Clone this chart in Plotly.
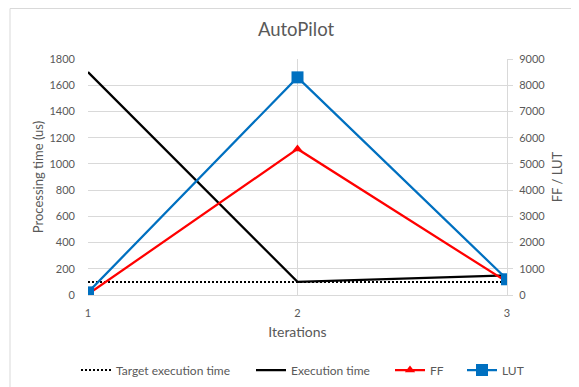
import plotly.graph_objects as go

iterations = [1, 2, 3]
target_time = [100, 100, 100]
execution_time = [1700, 100, 150]
ff = [30, 5570, 500]
lut = [100, 8300, 600]
left_ticks = list(range(0, 1801, 200))
right_ticks = list(range(0, 9001, 1000))

FONT = "Lato, 'Open Sans', sans-serif"
GRAY = "#595959"
W, H = 579, 387
OFF = 8  # page body margin

fig = go.Figure()
fig.add_trace(go.Scatter(x=iterations, y=target_time, name="Target execution time",
                         mode="lines", line=dict(color="black", width=2, dash="2px,2px"),
                         legend="legend"))
fig.add_trace(go.Scatter(x=iterations, y=execution_time, name="Execution time",
                         mode="lines", line=dict(color="black", width=2.25),
                         legend="legend2"))
fig.add_trace(go.Scatter(x=iterations, y=ff, name="FF", yaxis="y2",
                         mode="lines+markers", line=dict(color="#FF0000", width=2.25),
                         marker=dict(symbol="triangle-up", size=9, color="#FF0000"),
                         legend="legend3"))
fig.add_trace(go.Scatter(x=iterations, y=lut, name="LUT", yaxis="y2",
                         mode="lines+markers", line=dict(color="#0070C0", width=2.25),
                         marker=dict(symbol="square", size=12, color="#0070C0"),
                         legend="legend4"))

def leg(px):
    return dict(orientation="h", xref="container", yref="container",
                x=(px - OFF) / W, xanchor="left", y=1 - (370 - OFF) / H, yanchor="middle",
                font=dict(size=12, color=GRAY, family=FONT), bgcolor="rgba(0,0,0,0)")

pl, pr, pt, pb = 88 - OFF, 507 - OFF, 59 - OFF, 295 - OFF
pw, ph = pr - pl, pb - pt

fig.update_layout(
    width=W, height=H,
    paper_bgcolor="white", plot_bgcolor="white",
    margin=dict(l=pl, r=W - pr, t=pt, b=H - pb, autoexpand=False),
    font=dict(family=FONT, size=11, color=GRAY),
    title=dict(text="AutoPilot", xref="container", x=(296 - OFF) / W, xanchor="center",
               yref="container", y=1 - (30 - OFF) / H, yanchor="middle",
               font=dict(size=18.5, color=GRAY, family=FONT)),
    xaxis=dict(range=[1, 3], tickvals=iterations, showgrid=True, gridcolor="#D9D9D9",
               zeroline=False, showline=True, linecolor="#D9D9D9", ticks="",
               automargin=False, ticklabelstandoff=8,
               title=dict(text="Iterations", font=dict(size=14, color=GRAY), standoff=8),
               tickfont=dict(size=11, color=GRAY)),
    yaxis=dict(range=[0, 1800], tickvals=left_ticks, showgrid=True, gridcolor="#D9D9D9",
               zeroline=False, showline=False, ticks="", automargin=False,
               ticklabelstandoff=12,
               title=dict(text="Processing time (us)", font=dict(size=13, color=GRAY), standoff=2),
               tickfont=dict(size=11, color=GRAY)),
    yaxis2=dict(range=[0, 9000], tickvals=right_ticks, overlaying="y", side="right",
                showgrid=False, zeroline=False, showline=True, linecolor="#D9D9D9",
                ticks="outside", ticklen=5, tickcolor="#D9D9D9", automargin=False,
                ticklabelstandoff=4,
                title=dict(text="FF / LUT", font=dict(size=13, color=GRAY), standoff=8),
                tickfont=dict(size=11, color=GRAY)),
    legend=leg(76),
    legend2=leg(251),
    legend3=leg(390),
    legend4=leg(462),
    showlegend=True,
    shapes=[dict(type="rect", xref="paper", yref="paper",
                 x0=(10 - OFF - pl) / pw, x1=1.3, y0=-0.6, y1=1 + (pt - 0.5) / ph,
                 line=dict(color="#D9D9D9", width=1), layer="below")],
)

fig.write_html("out.html")
